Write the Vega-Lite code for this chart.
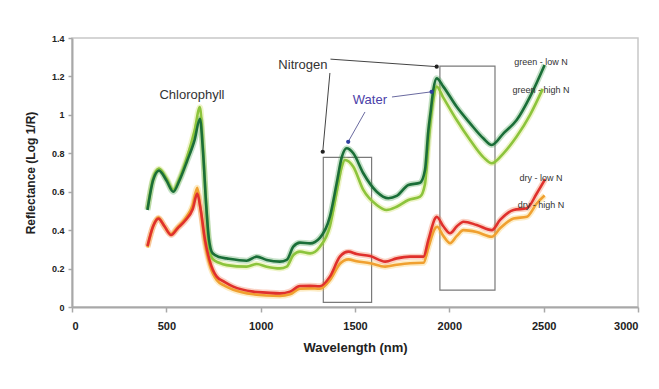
{
  "$schema": "https://vega.github.io/schema/vega-lite/v6.json",
  "width": 566,
  "height": 269,
  "autosize": "none",
  "padding": {"left": 72, "top": 38, "right": 21, "bottom": 82},
  "background": "white",
  "config": {
    "view": {"stroke": "#c8c8c8", "strokeWidth": 1.5},
    "axis": {"grid": false, "domainColor": "#a8a8a8", "domainWidth": 2, "tickColor": "#a8a8a8", "tickWidth": 1.5, "labelFont": "Liberation Sans", "labelFontWeight": "bold", "labelColor": "#222", "titleFont": "Liberation Sans", "titleFontWeight": "bold", "titleColor": "#222", "labelOverlap": false},
    "axisY": {"labelOverlap": false, "labelFontSize": 9}
  },
  "datasets": {
    "spectra": [
      {"x":400,"y":0.51,"s":"green - high N"},{"x":430,"y":0.67,"s":"green - high N"},{"x":461,"y":0.72,"s":"green - high N"},{"x":500,"y":0.67,"s":"green - high N"},{"x":537,"y":0.61,"s":"green - high N"},{"x":570,"y":0.67,"s":"green - high N"},{"x":610,"y":0.78,"s":"green - high N"},{"x":650,"y":0.92,"s":"green - high N"},{"x":678,"y":1.04,"s":"green - high N"},{"x":695,"y":0.82,"s":"green - high N"},{"x":710,"y":0.55,"s":"green - high N"},{"x":725,"y":0.33,"s":"green - high N"},{"x":745,"y":0.25,"s":"green - high N"},{"x":780,"y":0.23,"s":"green - high N"},{"x":820,"y":0.218,"s":"green - high N"},{"x":926,"y":0.21,"s":"green - high N"},{"x":979,"y":0.224,"s":"green - high N"},{"x":1032,"y":0.21,"s":"green - high N"},{"x":1102,"y":0.201,"s":"green - high N"},{"x":1138,"y":0.21,"s":"green - high N"},{"x":1173,"y":0.27,"s":"green - high N"},{"x":1208,"y":0.288,"s":"green - high N"},{"x":1262,"y":0.279,"s":"green - high N"},{"x":1314,"y":0.314,"s":"green - high N"},{"x":1367,"y":0.42,"s":"green - high N"},{"x":1403,"y":0.6,"s":"green - high N"},{"x":1430,"y":0.73,"s":"green - high N"},{"x":1447,"y":0.765,"s":"green - high N"},{"x":1491,"y":0.73,"s":"green - high N"},{"x":1544,"y":0.609,"s":"green - high N"},{"x":1615,"y":0.531,"s":"green - high N"},{"x":1667,"y":0.505,"s":"green - high N"},{"x":1721,"y":0.522,"s":"green - high N"},{"x":1783,"y":0.557,"s":"green - high N"},{"x":1845,"y":0.574,"s":"green - high N"},{"x":1871,"y":0.64,"s":"green - high N"},{"x":1889,"y":0.85,"s":"green - high N"},{"x":1902,"y":0.98,"s":"green - high N"},{"x":1915,"y":1.08,"s":"green - high N"},{"x":1933,"y":1.147,"s":"green - high N"},{"x":1968,"y":1.09,"s":"green - high N"},{"x":2039,"y":0.973,"s":"green - high N"},{"x":2110,"y":0.869,"s":"green - high N"},{"x":2180,"y":0.78,"s":"green - high N"},{"x":2225,"y":0.748,"s":"green - high N"},{"x":2287,"y":0.8,"s":"green - high N"},{"x":2357,"y":0.887,"s":"green - high N"},{"x":2428,"y":1.0,"s":"green - high N"},{"x":2495,"y":1.135,"s":"green - high N"},

      {"x":400,"y":0.505,"s":"green - low N"},{"x":430,"y":0.66,"s":"green - low N"},{"x":461,"y":0.71,"s":"green - low N"},{"x":500,"y":0.66,"s":"green - low N"},{"x":537,"y":0.6,"s":"green - low N"},{"x":570,"y":0.66,"s":"green - low N"},{"x":610,"y":0.76,"s":"green - low N"},{"x":650,"y":0.87,"s":"green - low N"},{"x":678,"y":0.98,"s":"green - low N"},{"x":695,"y":0.8,"s":"green - low N"},{"x":710,"y":0.55,"s":"green - low N"},{"x":725,"y":0.36,"s":"green - low N"},{"x":745,"y":0.28,"s":"green - low N"},{"x":780,"y":0.26,"s":"green - low N"},{"x":820,"y":0.253,"s":"green - low N"},{"x":926,"y":0.241,"s":"green - low N"},{"x":979,"y":0.262,"s":"green - low N"},{"x":1032,"y":0.245,"s":"green - low N"},{"x":1102,"y":0.236,"s":"green - low N"},{"x":1138,"y":0.245,"s":"green - low N"},{"x":1173,"y":0.314,"s":"green - low N"},{"x":1208,"y":0.335,"s":"green - low N"},{"x":1262,"y":0.331,"s":"green - low N"},{"x":1314,"y":0.36,"s":"green - low N"},{"x":1367,"y":0.47,"s":"green - low N"},{"x":1403,"y":0.644,"s":"green - low N"},{"x":1430,"y":0.78,"s":"green - low N"},{"x":1456,"y":0.826,"s":"green - low N"},{"x":1491,"y":0.8,"s":"green - low N"},{"x":1544,"y":0.696,"s":"green - low N"},{"x":1615,"y":0.6,"s":"green - low N"},{"x":1677,"y":0.566,"s":"green - low N"},{"x":1721,"y":0.578,"s":"green - low N"},{"x":1783,"y":0.635,"s":"green - low N"},{"x":1845,"y":0.647,"s":"green - low N"},{"x":1871,"y":0.713,"s":"green - low N"},{"x":1889,"y":0.92,"s":"green - low N"},{"x":1902,"y":1.025,"s":"green - low N"},{"x":1915,"y":1.13,"s":"green - low N"},{"x":1933,"y":1.19,"s":"green - low N"},{"x":1968,"y":1.147,"s":"green - low N"},{"x":2039,"y":1.042,"s":"green - low N"},{"x":2110,"y":0.956,"s":"green - low N"},{"x":2180,"y":0.878,"s":"green - low N"},{"x":2225,"y":0.843,"s":"green - low N"},{"x":2287,"y":0.904,"s":"green - low N"},{"x":2357,"y":0.973,"s":"green - low N"},{"x":2428,"y":1.095,"s":"green - low N"},{"x":2505,"y":1.26,"s":"green - low N"},

      {"x":400,"y":0.31,"s":"dry - high N"},{"x":430,"y":0.42,"s":"dry - high N"},{"x":458,"y":0.465,"s":"dry - high N"},{"x":490,"y":0.42,"s":"dry - high N"},{"x":525,"y":0.38,"s":"dry - high N"},{"x":560,"y":0.415,"s":"dry - high N"},{"x":600,"y":0.46,"s":"dry - high N"},{"x":640,"y":0.53,"s":"dry - high N"},{"x":664,"y":0.62,"s":"dry - high N"},{"x":680,"y":0.52,"s":"dry - high N"},{"x":705,"y":0.33,"s":"dry - high N"},{"x":730,"y":0.22,"s":"dry - high N"},{"x":767,"y":0.14,"s":"dry - high N"},{"x":810,"y":0.11,"s":"dry - high N"},{"x":855,"y":0.09,"s":"dry - high N"},{"x":961,"y":0.066,"s":"dry - high N"},{"x":1030,"y":0.06,"s":"dry - high N"},{"x":1102,"y":0.058,"s":"dry - high N"},{"x":1155,"y":0.066,"s":"dry - high N"},{"x":1208,"y":0.095,"s":"dry - high N"},{"x":1262,"y":0.097,"s":"dry - high N"},{"x":1314,"y":0.095,"s":"dry - high N"},{"x":1367,"y":0.14,"s":"dry - high N"},{"x":1420,"y":0.225,"s":"dry - high N"},{"x":1465,"y":0.248,"s":"dry - high N"},{"x":1509,"y":0.238,"s":"dry - high N"},{"x":1580,"y":0.228,"s":"dry - high N"},{"x":1660,"y":0.21,"s":"dry - high N"},{"x":1721,"y":0.22,"s":"dry - high N"},{"x":1792,"y":0.228,"s":"dry - high N"},{"x":1863,"y":0.23,"s":"dry - high N"},{"x":1889,"y":0.31,"s":"dry - high N"},{"x":1925,"y":0.41,"s":"dry - high N"},{"x":1935,"y":0.418,"s":"dry - high N"},{"x":1968,"y":0.37,"s":"dry - high N"},{"x":2004,"y":0.332,"s":"dry - high N"},{"x":2040,"y":0.37,"s":"dry - high N"},{"x":2075,"y":0.4,"s":"dry - high N"},{"x":2145,"y":0.39,"s":"dry - high N"},{"x":2225,"y":0.366,"s":"dry - high N"},{"x":2269,"y":0.41,"s":"dry - high N"},{"x":2340,"y":0.46,"s":"dry - high N"},{"x":2411,"y":0.47,"s":"dry - high N"},{"x":2464,"y":0.54,"s":"dry - high N"},{"x":2505,"y":0.58,"s":"dry - high N"},

      {"x":400,"y":0.317,"s":"dry - low N"},{"x":430,"y":0.42,"s":"dry - low N"},{"x":458,"y":0.46,"s":"dry - low N"},{"x":490,"y":0.42,"s":"dry - low N"},{"x":525,"y":0.375,"s":"dry - low N"},{"x":560,"y":0.41,"s":"dry - low N"},{"x":600,"y":0.45,"s":"dry - low N"},{"x":640,"y":0.51,"s":"dry - low N"},{"x":664,"y":0.59,"s":"dry - low N"},{"x":680,"y":0.52,"s":"dry - low N"},{"x":705,"y":0.35,"s":"dry - low N"},{"x":730,"y":0.24,"s":"dry - low N"},{"x":767,"y":0.158,"s":"dry - low N"},{"x":810,"y":0.13,"s":"dry - low N"},{"x":855,"y":0.106,"s":"dry - low N"},{"x":961,"y":0.08,"s":"dry - low N"},{"x":1030,"y":0.075,"s":"dry - low N"},{"x":1102,"y":0.071,"s":"dry - low N"},{"x":1155,"y":0.08,"s":"dry - low N"},{"x":1208,"y":0.109,"s":"dry - low N"},{"x":1262,"y":0.11,"s":"dry - low N"},{"x":1314,"y":0.108,"s":"dry - low N"},{"x":1367,"y":0.158,"s":"dry - low N"},{"x":1420,"y":0.262,"s":"dry - low N"},{"x":1465,"y":0.288,"s":"dry - low N"},{"x":1509,"y":0.276,"s":"dry - low N"},{"x":1580,"y":0.265,"s":"dry - low N"},{"x":1660,"y":0.236,"s":"dry - low N"},{"x":1721,"y":0.253,"s":"dry - low N"},{"x":1792,"y":0.262,"s":"dry - low N"},{"x":1863,"y":0.262,"s":"dry - low N"},{"x":1889,"y":0.349,"s":"dry - low N"},{"x":1925,"y":0.462,"s":"dry - low N"},{"x":1933,"y":0.47,"s":"dry - low N"},{"x":1968,"y":0.42,"s":"dry - low N"},{"x":2004,"y":0.384,"s":"dry - low N"},{"x":2040,"y":0.42,"s":"dry - low N"},{"x":2075,"y":0.444,"s":"dry - low N"},{"x":2145,"y":0.427,"s":"dry - low N"},{"x":2225,"y":0.4,"s":"dry - low N"},{"x":2269,"y":0.453,"s":"dry - low N"},{"x":2340,"y":0.505,"s":"dry - low N"},{"x":2411,"y":0.514,"s":"dry - low N"},{"x":2464,"y":0.592,"s":"dry - low N"},{"x":2508,"y":0.665,"s":"dry - low N"}
    ],
    "boxes": [
      {"x":1332,"x2":1588,"y":0.779,"y2":0.024},
      {"x":1950,"x2":2242,"y":1.254,"y2":0.088}
    ],
    "leaders": [
      {"x":1367,"y":1.218,"x2":1329,"y2":0.808,"g":"n"},
      {"x":1370,"y":1.29,"x2":1933,"y2":1.251,"g":"n"},
      {"x":1553,"y":1.015,"x2":1464,"y2":0.86,"g":"w"},
      {"x":1696,"y":1.093,"x2":1906,"y2":1.12,"g":"w"}
    ],
    "dots": [
      {"x":1329,"y":0.808,"g":"n"},
      {"x":1933,"y":1.251,"g":"n"},
      {"x":1464,"y":0.86,"g":"w"},
      {"x":1906,"y":1.12,"g":"w"}
    ],
    "labels": [
      {"x":636,"y":1.103,"t":"Chlorophyll","g":"n","size":13,"align":"center"},
      {"x":1224,"y":1.26,"t":"Nitrogen","g":"n","size":13,"align":"center"},
      {"x":1579,"y":1.077,"t":"Water","g":"w","size":13,"align":"center"},
      {"x":2486,"y":1.277,"t":"green - low N","g":"n","size":9,"align":"left"},
      {"x":2486,"y":1.129,"t":"green - high N","g":"n","size":9,"align":"left"},
      {"x":2486,"y":0.671,"t":"dry - low N","g":"n","size":9,"align":"left"},
      {"x":2486,"y":0.531,"t":"dry - high N","g":"n","size":9,"align":"left"}
    ]
  },
  "encoding": {
    "x": {"field": "x", "type": "quantitative", "scale": {"domain": [0, 3000], "nice": false}, "axis": {"values": [0,500,1000,1500,2000,2500,3000], "format": "d", "title": "Wavelength (nm)", "titleFontSize": 13, "labelFontSize": 11, "tickSize": 5, "labelPadding": 8, "titlePadding": 10, "labelOverlap": false}},
    "y": {"field": "y", "type": "quantitative", "scale": {"domain": [0, 1.4], "nice": false}, "axis": {"values": [0,0.2,0.4,0.6,0.8,1,1.2,1.4], "format": "~g", "title": "Reflectance (Log 1/R)", "titleFontSize": 12, "labelFontSize": 9, "tickSize": 4, "labelPadding": 4, "titlePadding": 14, "labelOverlap": false, "labelBound": false}}
  },
  "layer": [
    {
      "data": {"name": "boxes"},
      "mark": {"type": "rect", "fill": null, "stroke": "#7a7a7a", "strokeWidth": 1.2},
      "encoding": {
        "x2": {"field": "x2"},
        "y2": {"field": "y2"}
      }
    },
    {
      "data": {"name": "spectra"},
      "mark": {"type": "line", "strokeWidth": 6, "opacity": 0.3, "interpolate": "monotone"},
      "encoding": {
        "color": {"field": "s", "type": "nominal", "legend": null, "scale": {"domain": ["green - high N","green - low N","dry - high N","dry - low N"], "range": ["#c6d94a","#3f9a4a","#f7c040","#f06a3a"]}}
      }
    },
    {
      "data": {"name": "spectra"},
      "mark": {"type": "line", "strokeWidth": 2.6, "interpolate": "monotone"},
      "encoding": {
        "color": {"field": "s", "type": "nominal", "legend": null, "scale": {"domain": ["green - high N","green - low N","dry - high N","dry - low N"], "range": ["#8cc43c","#1a6e38","#f0a030","#e0302c"]}}
      }
    },
    {
      "data": {"name": "leaders"},
      "mark": {"type": "rule", "strokeWidth": 1},
      "encoding": {
        "x2": {"field": "x2"},
        "y2": {"field": "y2"},
        "color": {"field": "g", "type": "nominal", "legend": null, "scale": {"domain": ["n","w"], "range": ["#444444","#6a6aa0"]}}
      }
    },
    {
      "data": {"name": "dots"},
      "mark": {"type": "point", "filled": true, "size": 18, "opacity": 1},
      "encoding": {
        "color": {"field": "g", "type": "nominal", "legend": null, "scale": {"domain": ["n","w"], "range": ["#222222","#3040a0"]}}
      }
    },
    {
      "data": {"name": "labels"},
      "mark": {"type": "text", "font": "Liberation Sans", "baseline": "middle"},
      "encoding": {
        "text": {"field": "t"},
        "size": {"field": "size", "type": "quantitative", "scale": null},
        "align": {"field": "align"},
        "color": {"field": "g", "type": "nominal", "legend": null, "scale": {"domain": ["n","w"], "range": ["#333333","#4a40a8"]}}
      }
    }
  ],
  "resolve": {"scale": {"color": "independent"}}
}
